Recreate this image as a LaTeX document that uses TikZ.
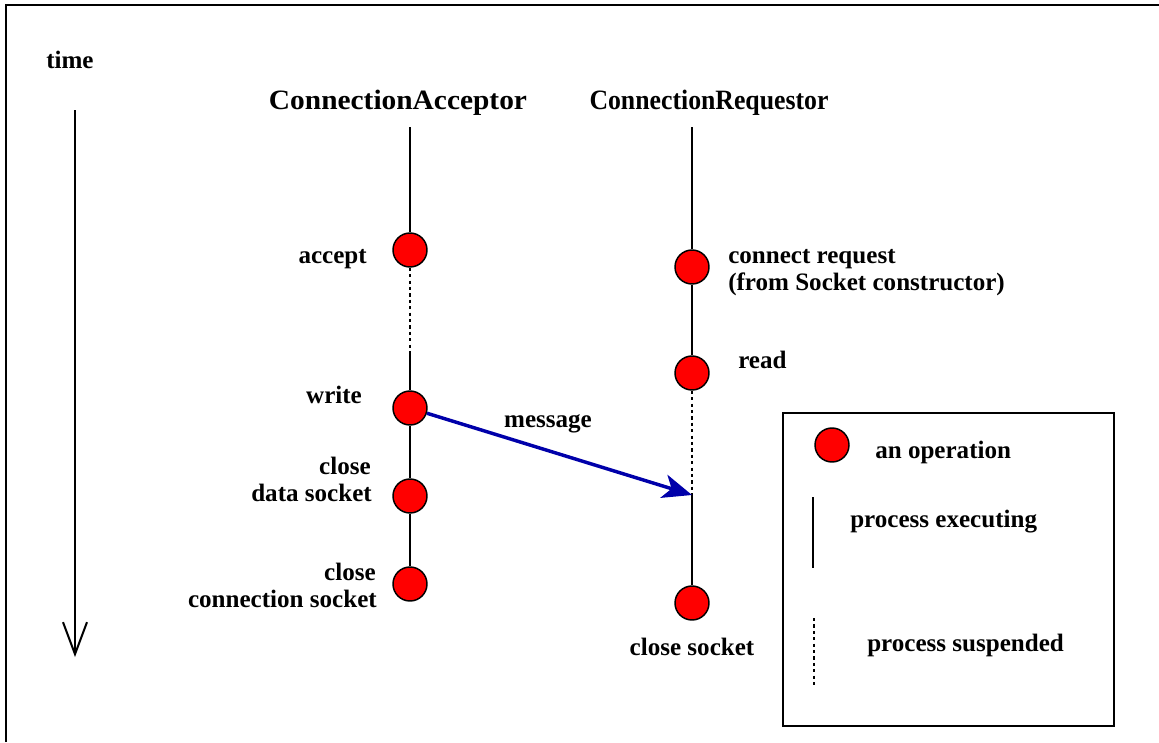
\documentclass[tikz,border=0pt]{standalone}
\usepackage{fontspec}
\usepackage{graphicx}
\setmainfont{Liberation Serif}
\usetikzlibrary{arrows.meta}

\definecolor{opred}{RGB}{255,0,0}
\definecolor{msgblue}{RGB}{0,0,170}

\tikzset{
  op/.style={circle, fill=opred, draw=black, line width=1.1pt, minimum size=25.5pt, inner sep=0pt},
  lbl/.style={inner sep=0pt, font=\bfseries\fontsize{18.8pt}{21pt}\selectfont},
  heading/.style={inner sep=0pt, font=\bfseries\fontsize{21pt}{24pt}\selectfont},
  running/.style={line width=1.5pt},
  runthin/.style={line width=0.8pt},
  waiting/.style={line width=0.8pt, dash pattern=on 2.4pt off 2.4pt},
  msgline/.style={draw=msgblue, line width=2.6pt,
    -{Stealth[length=22pt, width=18pt, inset=6pt, fill=msgblue]}},
  timeline/.style={line width=1.5pt, -{Straight Barb[length=24pt, width=18pt, line width=1.5pt]}},
}

\begin{document}
\begin{tikzpicture}[x=0.75pt, y=-0.75pt]
  \useasboundingbox (0,0) rectangle (1159,742);

  % outer frame (top and left edges)
  \draw[line width=1.5pt] (6,742) -- (6,5) -- (1159,5);

  % time axis
  \node[lbl, anchor=base west] (time) at (46,69) {time};
  \coordinate (ttop) at (75,110);
  \coordinate (tbot) at (75,657);
  \draw[timeline] (ttop) -- (tbot);

  % process headings
  \node[heading, anchor=base] (hacc) at (398,109) {\scalebox{1.05}[1]{ConnectionAcceptor}};
  \node[heading, anchor=base] (hreq) at (709,109) {\scalebox{0.92}[1]{ConnectionRequestor}};

  % acceptor lifeline
  \coordinate (atop) at (410,127);
  \coordinate (asusp) at (410,353);
  \node[op] (accept) at (410,250) {};
  \node[op] (write) at (410,408) {};
  \node[op] (closedata) at (410,496) {};
  \node[op] (closeconn) at (410,584) {};
  \draw[running] (atop) -- (accept);
  \draw[waiting] (accept) -- (asusp);
  \draw[runthin] (asusp) -- (write);
  \draw[runthin] (write) -- (closedata);
  \draw[runthin] (closedata) -- (closeconn);

  % requestor lifeline
  \coordinate (rtop) at (692,127);
  \coordinate (rrecv) at (692,495);
  \node[op] (connect) at (692,267) {};
  \node[op] (read) at (692,373) {};
  \node[op] (closesock) at (692,603) {};
  \draw[running] (rtop) -- (connect);
  \draw[runthin] (connect) -- (read);
  \draw[waiting] (read) -- (rrecv);
  \draw[running] (rrecv) -- (closesock);

  % message
  \draw[msgline] (write) -- (rrecv);
  \node[lbl, anchor=base] (msg) at (548,427) {message};

  % operation labels
  \node[lbl, anchor=base east] (laccept) at (367,263) {accept};
  \node[lbl, anchor=base] (lwrite) at (334,403) {write};
  \node[lbl, anchor=base east] (lclose1) at (371,474) {close};
  \node[lbl, anchor=base east] (ldata) at (372,501) {data socket};
  \node[lbl, anchor=base east] (lclose2) at (376,580) {close};
  \node[lbl, anchor=base east] (lconn) at (377,607) {connection socket};
  \node[lbl, anchor=base west] (lconnect) at (728,263) {connect request};
  \node[lbl, anchor=base west] (lfrom) at (728,290) {(from Socket constructor)};
  \node[lbl, anchor=base west] (lread) at (738,368) {read};
  \node[lbl, anchor=base] (lclosesock) at (692,655) {close socket};

  % legend
  \node[draw, line width=1.5pt, minimum width=248.25pt, minimum height=234.75pt, inner sep=0pt,
        anchor=north west] (legend) at (782,412) {};
  \node[op] (keyop) at (832,445) {};
  \node[lbl, anchor=base west] (keyoptxt) at (875,458) {an operation};
  \coordinate (krun1) at (813,497);
  \coordinate (krun2) at (813,568);
  \draw[running] (krun1) -- (krun2);
  \node[lbl, anchor=base west] (keyruntxt) at (850,527) {process executing};
  \coordinate (kwait1) at (814,618);
  \coordinate (kwait2) at (814,686);
  \draw[waiting] (kwait1) -- (kwait2);
  \node[lbl, anchor=base west] (keywaittxt) at (867,651) {process suspended};
\end{tikzpicture}
\end{document}
